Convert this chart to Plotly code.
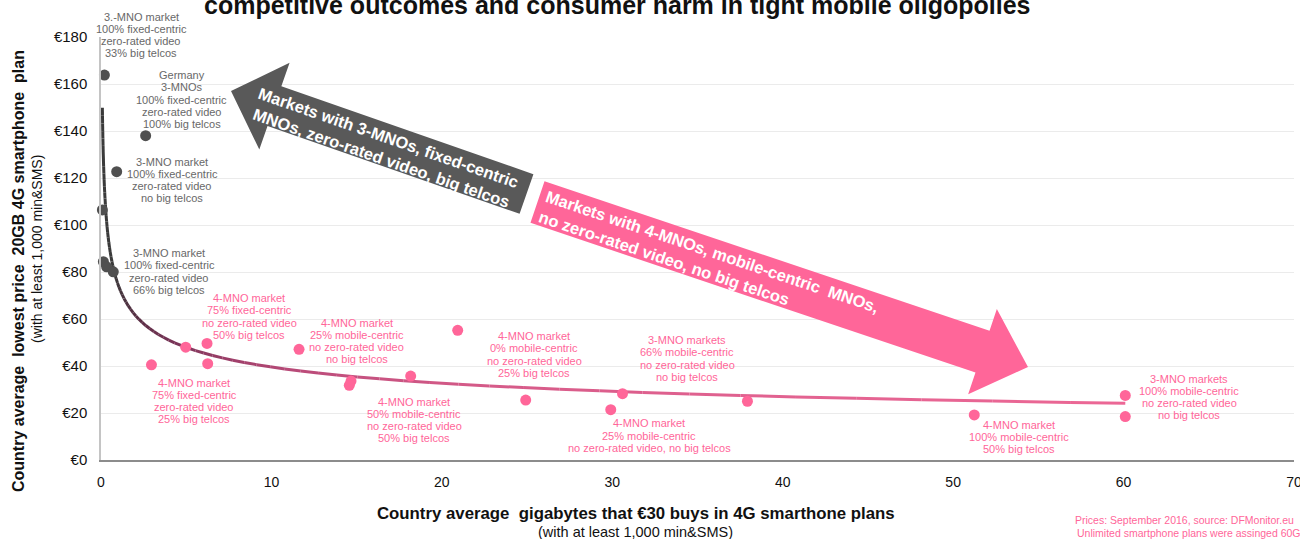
import numpy as np
import plotly.graph_objects as go

# ---------------- data ----------------
gray_x = [0.20, 2.62, 0.92, 0.08, 0.14, 0.33, 0.72]
gray_y = [163.8, 138.0, 122.7, 106.4, 84.4, 82.2, 80.1]
pink_x = [2.96, 4.97, 6.22, 6.26, 11.62, 14.67, 14.57, 18.17, 20.93, 24.92,
          29.91, 30.60, 37.93, 51.24, 60.1, 60.1]
pink_y = [40.5, 48.0, 49.6, 41.0, 47.1, 33.6, 31.8, 35.7, 55.2, 25.5,
          21.4, 28.2, 25.0, 19.2, 27.5, 18.5]

x_ticks = [0, 10, 20, 30, 40, 50, 60, 70]
y_ticks = [0, 20, 40, 60, 80, 100, 120, 140, 160, 180]

gray_labels = [
    ["3.-MNO market", "100% fixed-centric", "zero-rated video", "33% big telcos"],
    ["Germany", "3-MNOs", "100% fixed-centric", "zero-rated video", "100% big telcos"],
    ["3-MNO market", "100% fixed-centric", "zero-rated video", "no big telcos"],
    ["3-MNO market", "100% fixed-centric", "zero-rated video", "66% big telcos"],
]
pink_labels = [
    ["4-MNO market", "75% fixed-centric", "no zero-rated video", "50% big telcos"],
    ["4-MNO market", "75% fixed-centric", "zero-rated video", "25% big telcos"],
    ["4-MNO market", "25% mobile-centric", "no zero-rated video", "no big telcos"],
    ["4-MNO market", "50% mobile-centric", "no zero-rated video", "50% big telcos"],
    ["4-MNO market", "0% mobile-centric", "no zero-rated video", "25% big telcos"],
    ["3-MNO markets", "66% mobile-centric", "no zero-rated video", "no big telcos"],
    ["4-MNO market", "25% mobile-centric", "no zero-rated video, no big telcos"],
    ["4-MNO market", "100% mobile-centric", "50% big telcos"],
    ["3-MNO markets", "100% mobile-centric", "no zero-rated video", "no big telcos"],
]
# label centre positions (data units)
gray_label_pos = [(2.35, 180.9), (4.75, 153.4), (4.17, 119.1), (3.99, 80.2)]
pink_label_pos = [(8.69, 61.1), (5.46, 25.1), (15.02, 50.6), (18.37, 17.0),
                  (25.41, 44.9), (34.39, 43.2), (32.16, 10.4), (53.85, 9.8),
                  (63.85, 26.8)]

# ---------------- layout geometry ----------------
W, H = 1300, 539
ML, MR, MT, MB = 101, 6, 37, 79
PW, PH = W - ML - MR, H - MT - MB
XR, YR = (0, 70), (0, 180)

def px2x(px):
    return XR[0] + (px - ML) / PW * (XR[1] - XR[0])

def py2y(py):
    return YR[0] + (MT + PH - py) / PH * (YR[1] - YR[0])

def px2paper(px):
    return (px - ML) / PW

def py2paper(py):
    return (MT + PH - py) / PH

def x2paper(x):
    return (x - XR[0]) / (XR[1] - XR[0])

def y2paper(y):
    return (y - YR[0]) / (YR[1] - YR[0])

FONT = "Liberation Sans, Arial, sans-serif"
GRAY = "#505050"
GRAYTXT = "#686868"
PINK = "#ff6699"

fig = go.Figure()

# ---------------- trendline (power fit from the data) ----------------
all_x = np.array(gray_x + pink_x)
all_y = np.array(gray_y + pink_y)
b, lna = np.polyfit(np.log(all_x), np.log(all_y), 1)
xs = np.geomspace(all_x.min(), all_x.max(), 240)
ys = np.exp(lna) * xs ** b

stops = [(0.0, (58, 58, 58)), (0.34, (58, 58, 58)), (0.50, (90, 46, 69)),
         (0.60, (122, 53, 88)), (0.68, (156, 62, 104)), (0.74, (184, 74, 120)),
         (0.84, (212, 90, 136)), (1.0, (236, 104, 150))]

def grad(t):
    for (t0, c0), (t1, c1) in zip(stops[:-1], stops[1:]):
        if t <= t1:
            f = 0 if t1 == t0 else (t - t0) / (t1 - t0)
            return "rgb(%d,%d,%d)" % tuple(round(a + (bb - a) * f) for a, bb in zip(c0, c1))
    return "rgb(%d,%d,%d)" % stops[-1][1]

lx = np.log(xs)
tt = (lx - lx[0]) / (lx[-1] - lx[0])
step = 3
for i in range(0, len(xs) - 1, step):
    j = min(i + step, len(xs) - 1)
    fig.add_trace(go.Scatter(x=xs[i:j + 1], y=ys[i:j + 1], mode="lines",
                             line=dict(color=grad(tt[i]), width=3),
                             hoverinfo="skip", showlegend=False))

# ---------------- points ----------------
fig.add_trace(go.Scatter(x=gray_x, y=gray_y, mode="markers", cliponaxis=False,
                         marker=dict(color=GRAY, size=11), showlegend=False))
fig.add_trace(go.Scatter(x=pink_x, y=pink_y, mode="markers", cliponaxis=False,
                         marker=dict(color=PINK, size=11), showlegend=False))

annotations = []
LS = 12.2

def add_label(lines, pos, color):
    n = len(lines)
    for i, ln in enumerate(lines):
        annotations.append(dict(
            x=x2paper(pos[0]), y=y2paper(pos[1]), xref="paper", yref="paper",
            text=ln, showarrow=False, xanchor="center", yanchor="middle",
            yshift=-(i - (n - 1) / 2) * LS,
            font=dict(family=FONT, size=11, color=color)))

for lines, pos in zip(gray_labels, gray_label_pos):
    add_label(lines, pos, GRAYTXT)
for lines, pos in zip(pink_labels, pink_label_pos):
    add_label(lines, pos, PINK)

# ---------------- block arrows ----------------
def block_arrow(tail, tip, hw, HW, hl):
    tail = np.array(tail, float); tip = np.array(tip, float)
    u = (tip - tail) / np.linalg.norm(tip - tail)
    n = np.array([-u[1], u[0]])
    base = tip - hl * u
    pts = [tail + hw * n, base + hw * n, base + HW * n, tip,
           base - HW * n, base - hw * n, tail - hw * n]
    return "M " + " L ".join("%.4f,%.4f" % (px2x(p[0]), py2y(p[1])) for p in pts) + " Z"

shapes = [
    dict(type="path", xref="x", yref="y", layer="above",
         path=block_arrow((526.5, 194), (231, 91), 21, 46, 46),
         fillcolor="#595959", line=dict(width=0)),
    dict(type="path", xref="x", yref="y", layer="above",
         path=block_arrow((537.5, 202), (1028, 367), 22, 45, 48),
         fillcolor="#ff6699", line=dict(width=0)),
]

annotations.append(dict(
    x=px2paper(385), y=py2paper(147.5), xref="paper", yref="paper",
    text="Markets with 3-MNOs, fixed-centric<br>MNOs, zero-rated video, big telcos",
    showarrow=False, textangle=19.2, align="center", xanchor="center", yanchor="middle",
    font=dict(family=FONT, size=16.5, color="white", weight="bold")))
annotations.append(dict(
    x=px2paper(709), y=py2paper(261), xref="paper", yref="paper",
    text="Markets with 4-MNOs, mobile-centric  MNOs,<br>no zero-rated video, no big telcos",
    showarrow=False, textangle=18.6, align="left", xanchor="center", yanchor="middle",
    font=dict(family=FONT, size=16.5, color="white", weight="bold")))

# ---------------- titles ----------------
annotations.append(dict(
    x=px2paper(617.5), y=py2paper(5), xref="paper", yref="paper",
    text="competitive outcomes and consumer harm in tight mobile oligopolies",
    showarrow=False, xanchor="center", yanchor="middle",
    font=dict(family=FONT, size=25, color="#111111", weight="bold")))
annotations.append(dict(
    x=px2paper(18), y=py2paper(271), xref="paper", yref="paper",
    text="Country average  lowest price  20GB 4G smartphone  plan",
    showarrow=False, textangle=-90, xanchor="center", yanchor="middle",
    font=dict(family=FONT, size=16, color="#111111", weight="bold")))
annotations.append(dict(
    x=px2paper(37), y=py2paper(249), xref="paper", yref="paper",
    text="(with at least 1,000 min&SMS)",
    showarrow=False, textangle=-90, xanchor="center", yanchor="middle",
    font=dict(family=FONT, size=14, color="#111111")))
annotations.append(dict(
    x=px2paper(636), y=py2paper(513), xref="paper", yref="paper",
    text="Country average  gigabytes that €30 buys in 4G smarthone plans",
    showarrow=False, xanchor="center", yanchor="middle",
    font=dict(family=FONT, size=16.8, color="#111111", weight="bold")))
annotations.append(dict(
    x=px2paper(635), y=py2paper(532), xref="paper", yref="paper",
    text="(with at least 1,000 min&SMS)",
    showarrow=False, xanchor="center", yanchor="middle",
    font=dict(family=FONT, size=14.5, color="#111111")))
annotations.append(dict(
    x=px2paper(1073), y=py2paper(520), xref="paper", yref="paper",
    text="Prices: September 2016, source: DFMonitor.eu",
    showarrow=False, xanchor="left", yanchor="middle",
    font=dict(family=FONT, size=10.5, color=PINK)))
annotations.append(dict(
    x=px2paper(1075), y=py2paper(533), xref="paper", yref="paper",
    text="Unlimited smartphone plans were assinged 60GB",
    showarrow=False, xanchor="left", yanchor="middle",
    font=dict(family=FONT, size=10.5, color=PINK)))

fig.update_layout(
    width=W, height=H, autosize=False,
    margin=dict(l=ML, r=MR, t=MT, b=MB, pad=0, autoexpand=False),
    paper_bgcolor="white", plot_bgcolor="white",
    font=dict(family=FONT, color="#111111"),
    showlegend=False,
    shapes=shapes,
    annotations=annotations,
    xaxis=dict(range=list(XR), tickvals=x_ticks, ticktext=[str(v) for v in x_ticks],
               automargin=False,
               showgrid=False, zeroline=False, showline=True, linecolor="#8c8c8c",
               linewidth=1.5, ticks="outside", ticklen=8, tickcolor="rgba(0,0,0,0)",
               ticklabeloverflow="allow",
               tickfont=dict(size=14, color="#111111")),
    yaxis=dict(range=list(YR), tickvals=y_ticks, ticktext=["€%d" % v for v in y_ticks],
               automargin=False,
               showgrid=True, gridcolor="#ebebeb", gridwidth=1, zeroline=False,
               showline=True, linecolor="#c4c4c4", linewidth=1.5,
               ticks="outside", ticklen=9, tickcolor="rgba(0,0,0,0)",
               ticklabeloverflow="allow",
               tickfont=dict(size=15, color="#111111")),
)

fig.write_html("out.html")
